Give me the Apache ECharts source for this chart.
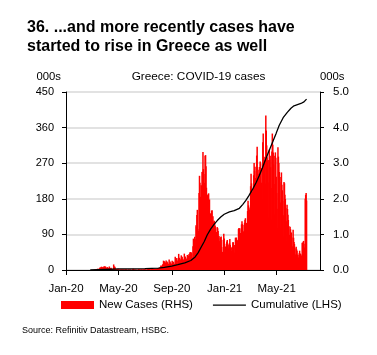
<!DOCTYPE html>
<html><head><meta charset="utf-8">
<script src="https://cdn.jsdelivr.net/npm/echarts@6/dist/echarts.min.js"></script>
<style>html,body{margin:0;padding:0;background:#fff}#c{width:377px;height:355px}</style>
</head><body><div id="c"></div>
<script>
const titleText = '36. ...and more recently cases have\nstarted to rise in Greece as well';
const subTitle = 'Greece: COVID-19 cases';
const unitLeft = '000s';
const unitRight = '000s';
const sourceText = 'Source: Refinitiv Datastream, HSBC.';
const seriesNames = ['New Cases (RHS)', 'Cumulative (LHS)'];
const tickDates = ['2020-01-01','2020-05-01','2020-09-01','2021-01-01','2021-05-01'];
const tickLabels = ['Jan-20','May-20','Sep-20','Jan-21','May-21'];
const axisStart = '2020-01-01';
const axisEnd = '2021-08-09';

// daily new cases (000s), one value per day starting at newCasesStart
const newCasesStart = '2020-02-26';
const newCases = [
0,0.002,0.001,0,0.001,0,0.002,
0.002,0,0.01,0.002,0.004,0.011,0.008,
0.02,0.03,0.018,0.038,0.03,0.021,0.035,
0.031,0.046,0.077,0.053,0.06,0.094,0.07,
0.071,0.078,0.071,0.073,0.102,0.095,0.058,
0.101,0.051,0.056,0.061,0.081,0.02,0.062,
0.049,0.02,0.099,0.039,0.058,0.024,0.062,
0.035,0.012,0.025,0.015,0.008,0.156,0.089,
0.1,0.077,0.023,0.014,0.013,0.016,0.017,
0.006,0.032,0.012,0.015,0.01,0.004,0.013,
0.008,0.015,0.011,0.012,0.012,0.01,0.016,
0.01,0.006,0.015,0.003,0.012,0.021,0.015,
0.008,0.01,0.002,0,0.019,0.005,0.011,
0.002,0.012,0.016,0.001,0,0.002,0.017,
0.005,0.035,0.016,0.005,0.017,0.001,0.006,
0.015,0.009,0.002,0.005,0.003,0.001,0.024,
0.012,0.011,0.014,0.015,0.003,0.009,0.022,
0.01,0.001,0.015,0.017,0.01,0.017,0.02,
0.021,0.01,0.005,0.009,0.003,0.015,0.016,
0.014,0.032,0.017,0.026,0.019,0.009,0.012,
0.021,0.031,0.011,0.022,0.026,0.013,0.025,
0.019,0.026,0.015,0.029,0.034,0.014,0.034,
0.032,0.047,0.057,0.041,0.048,0.024,0.059,
0.069,0.077,0.124,0.103,0.121,0.05,0.151,
0.168,0.262,0.254,0.23,0.217,0.132,0.203,
0.269,0.196,0.24,0.217,0.181,0.107,0.168,
0.293,0.157,0.237,0.209,0.12,0.165,0.173,
0.26,0.199,0.184,0.234,0.157,0.117,0.175,
0.372,0.245,0.339,0.323,0.195,0.163,0.264,
0.338,0.453,0.304,0.344,0.277,0.209,0.3,
0.411,0.331,0.374,0.315,0.295,0.185,0.285,
0.46,0.393,0.366,0.346,0.315,0.227,0.301,
0.423,0.372,0.351,0.406,0.449,0.282,0.501,
0.48,0.508,0.486,0.46,0.354,0.327,0.667,
0.882,0.745,0.611,0.935,0.865,0.68,1.259,
1.211,1.547,1.69,1.153,1.03,1.1,2.166,
2.646,2.448,2.056,1.914,2.384,1.695,2.752,
2.76,3.316,2.835,2.698,2.448,2.18,3.209,
3.227,2.914,2.311,2.102,2.1,1.498,2.131,
2.154,1.94,1.981,1.59,1.59,1.044,1.539,
1.667,1.677,1.395,1.508,1.341,0.827,1.382,
1.335,1.245,1.196,1.013,1.066,0.624,1.205,
1.173,1.095,0.885,0.953,0.811,0.455,0.921,
0.835,0.938,0.648,0.46,0.51,0.262,0.848,
1.02,0.887,0.262,0.51,0.66,0.332,0.739,
0.803,0.843,0.658,0.716,0.606,0.364,0.752,
0.874,0.706,0.644,0.622,0.537,0.303,0.654,
0.781,0.779,0.683,0.702,0.489,0.33,0.908,
0.886,0.913,0.853,0.837,0.752,0.502,1.148,
1.182,1.155,1.174,1.039,0.908,0.667,1.279,
1.367,1.287,1.266,1.087,1.034,0.818,1.328,
1.414,1.455,1.296,1.323,1.262,1.053,1.655,
1.942,1.814,1.756,1.697,1.459,1.224,2.353,
2.702,2.433,2.264,2.208,1.889,1.435,2.661,
3.009,2.778,2.897,2.585,2.295,1.606,3.215,
3.465,2.892,2.816,2.698,2.179,1.449,2.893,
3.047,2.991,2.865,2.453,2.002,1.306,3.586,
3.833,3.047,3.179,3.083,2.428,1.913,4.34,
3.916,3.5,3.164,3.075,2.456,1.475,3.089,
3.382,3.105,3.207,2.887,2.305,1.412,3.331,
3.833,3.517,3.3,2.966,2.418,1.558,3.208,
3.304,3.152,2.616,2.163,1.723,1.175,3.451,
3.185,3.009,2.752,2.467,1.896,1.167,2.611,
2.741,2.396,2.24,1.944,1.535,0.935,2.472,
2.436,2.111,1.994,1.74,1.372,0.793,1.833,
1.712,1.555,1.405,1.237,0.983,0.569,1.212,
1.144,1.038,1.055,0.913,0.662,0.421,1.128,
0.906,0.785,0.729,0.614,0.438,0.253,0.654,
0.578,0.538,0.433,0.422,0.353,0.221,0.473,
0.542,0.466,0.453,0.431,0.393,0.262,0.762,
0.759,0.782,0.817,0.737,0.631,0.425,2.004,
2.112,2.165,1.953
];

// cumulative cases (000s) read at dates
const cumDates = ['2020-02-26','2020-04-01','2020-05-01','2020-06-01','2020-07-01','2020-08-01','2020-08-15',
'2020-09-01','2020-09-15','2020-10-01','2020-10-15','2020-10-25','2020-11-01','2020-11-08','2020-11-15',
'2020-11-22','2020-11-30','2020-12-08','2020-12-15','2020-12-23','2020-12-31','2021-01-12','2021-01-23',
'2021-02-04','2021-02-12','2021-02-19','2021-02-26','2021-03-07','2021-03-15','2021-03-22','2021-03-29',
'2021-04-06','2021-04-14','2021-04-22','2021-04-30','2021-05-07','2021-05-16','2021-05-26','2021-06-03',
'2021-06-10','2021-06-18','2021-06-26','2021-07-03','2021-07-09'];
const cumValues = [0,1.3,2.6,2.9,3.4,4.5,6.5,
10,13.5,18,24,33,44,58,72,
89,104,116,125,134,141,147,150,
156,166,176,188,205,222,239,258,
281,303,324,346,366,385,399,409,
415,418,421,425,432];

const font = "'Liberation Sans',Arial,sans-serif";
// thin horizontal stroke inside a 33x8 legend box (corner dots keep the box size)
const lineIcon = 'path://M0,0h0.01v0.01h-0.01z M0,3.4h33v1.3h-33z M32.99,7.99h0.01v0.01h-0.01z';

// day number counted from axisStart (UTC, so no DST drift)
function dayNo(s){const p=s.split('-').map(Number);const a=axisStart.split('-').map(Number);
  return Math.round((Date.UTC(p[0],p[1]-1,p[2])-Date.UTC(a[0],a[1]-1,a[2]))/86400000);}
const tickDays = tickDates.map(dayNo);
const startDay = dayNo(newCasesStart);
const barData = newCases.map((v,i)=>[startDay+i, v]);
const lineData = cumDates.map((d,i)=>[dayNo(d), cumValues[i]]);

const chart = echarts.init(document.getElementById('c'), null, {renderer:'canvas'});
chart.setOption({
  animation:false,
  backgroundColor:'#fff',
  title:{text:titleText,left:22,top:13,textStyle:{fontFamily:font,fontWeight:'bold',fontSize:16,lineHeight:19,color:'#000'}},
  grid:{left:66,right:57,top:92,bottom:85,containLabel:false},
  legend:{left:56,top:294,itemWidth:33,itemHeight:8,itemGap:20,
    textStyle:{fontFamily:font,fontSize:11.5,color:'#000'},
    data:[{name:seriesNames[0],icon:'rect'},{name:seriesNames[1],icon:lineIcon,itemStyle:{color:'#000',borderWidth:0}}]},
  xAxis:{type:'value',min:0,max:dayNo(axisEnd),
    axisLine:{lineStyle:{color:'#000',width:1}},
    axisTick:{show:true,customValues:tickDays,length:5,lineStyle:{color:'#000'}},
    axisLabel:{customValues:tickDays,margin:13,fontFamily:font,fontSize:11.5,color:'#000',
      formatter:function(v){const i=tickDays.indexOf(Math.round(v));return i>=0?tickLabels[i]:'';}},
    splitLine:{show:false}},
  yAxis:[
    {type:'value',position:'left',min:0,max:450,interval:90,
      axisLine:{show:true,lineStyle:{color:'#000',width:1}},
      axisTick:{show:true,length:4,lineStyle:{color:'#000'}},
      axisLabel:{margin:12,fontFamily:font,fontSize:11,color:'#000'},
      splitLine:{show:true,lineStyle:{color:'#d9d9d9',width:1.5}}},
    {type:'value',position:'right',min:0,max:5,interval:1,
      axisLine:{show:true,lineStyle:{color:'#000',width:1}},
      axisTick:{show:true,length:4,lineStyle:{color:'#000'}},
      axisLabel:{margin:13,fontFamily:font,fontSize:11.5,color:'#000',formatter:v=>v.toFixed(1)},
      splitLine:{show:false}}
  ],
  series:[
    {type:'bar',name:seriesNames[0],yAxisIndex:1,data:barData,barWidth:1.5,itemStyle:{color:'#ff0000'},z:2},
    {type:'line',name:seriesNames[1],yAxisIndex:0,data:lineData,symbol:'none',showSymbol:false,
      lineStyle:{color:'#000',width:1.3},itemStyle:{color:'#000'},z:3}
  ],
  graphic:[
    {type:'text',x:198.5,y:77,style:{text:subTitle,textAlign:'center',textVerticalAlign:'middle',font:"11.8px "+font,fill:'#000'}},
    {type:'text',x:61,y:77,style:{text:unitLeft,textAlign:'right',textVerticalAlign:'middle',font:"11.3px "+font,fill:'#000'}},
    {type:'text',x:320,y:77,style:{text:unitRight,textAlign:'left',textVerticalAlign:'middle',font:"11.3px "+font,fill:'#000'}},
    {type:'text',x:22,y:331,style:{text:sourceText,textAlign:'left',textVerticalAlign:'middle',font:"9px "+font,fill:'#000'}}
  ]
});
</script></body></html>
